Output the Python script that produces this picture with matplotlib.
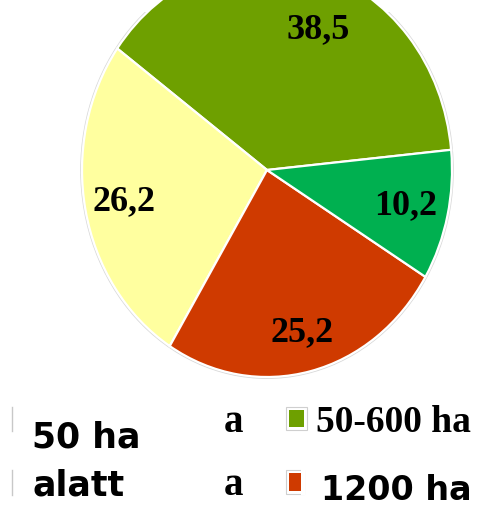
import matplotlib
matplotlib.use("Agg")
import matplotlib.pyplot as plt
from matplotlib.patches import Rectangle, Circle
import numpy as np

# ---- data ----
categories = ["50-600 ha", "50 ha alatt", "1200 ha", "600-1200 ha"]
values = [38.5, 26.2, 25.2, 10.2]
value_labels = ["38,5", "26,2", "25,2", "10,2"]
colors = ["#6EA000", "#FFFF9F", "#CF3A00", "#00B050"]

# legend fragments as they appear
legend_left_lines = ["50 ha", "alatt"]
legend_mid = ["a", "a"]
legend_right = ["50-600 ha", "1200 ha"]

W, H = 481, 509
fig = plt.figure(figsize=(W / 100, H / 100), dpi=100)

# pie axes (ellipse: different x/y pixel scaling)
top_clip = 12
ax = fig.add_axes([0, 0, 1, (H - top_clip) / H])
cx, cy, rx, ry = 267, 170, 185, 207

ax.add_patch(Circle((0, 0), 1.006, facecolor="none", edgecolor="#d8d8d8", lw=1.0, zorder=0))
wedges, _ = ax.pie(values, colors=colors, startangle=5.6, counterclock=True,
                   radius=1.0, wedgeprops=dict(edgecolor="white", linewidth=1.6))
ax.set_aspect("auto")
ax.set_xlim(-cx / rx, (W - cx) / rx)
ax.set_ylim(-(H - cy) / ry, (cy - top_clip) / ry)
ax.axis("off")

label_r = [0.73, 0.79, 0.81, 0.77]
label_shift = [-7.0, 0.0, 0.0, 0.0]
for w, lab, r, sh in zip(wedges, value_labels, label_r, label_shift):
    mid = np.deg2rad((w.theta1 + w.theta2) / 2 + sh)
    ax.text(r * np.cos(mid), r * np.sin(mid), lab, ha="center", va="center",
            fontsize=26, fontweight="bold", family="Liberation Serif", color="black")

# overlay axes in pixel coordinates for legend
lx = fig.add_axes([0, 0, 1, 1])
lx.set_xlim(0, W)
lx.set_ylim(H, 0)
lx.axis("off")

# faint remnants of legend keys on the left
for y0, y1 in [(407, 431), (470, 495)]:
    lx.plot([12, 12], [y0, y1], color="#c8c8c8", lw=1.0)

# legend keys
lx.add_patch(Rectangle((286, 407), 21, 23, facecolor="white", edgecolor="#cfcfcf", lw=0.8))
lx.add_patch(Rectangle((289, 410), 15, 17, facecolor=colors[0], edgecolor="none"))
lx.add_patch(Rectangle((286, 470), 18, 24, facecolor="white", edgecolor="#cfcfcf", lw=0.8))
lx.add_patch(Rectangle((289, 473), 12, 18, facecolor=colors[2], edgecolor="none"))
lx.add_patch(Rectangle((301.5, 469), 4, 26, facecolor="white", edgecolor="none"))

sans = dict(fontsize=25, fontweight="bold", family="DejaVu Sans", color="black")
serif = dict(fontsize=27, fontweight="bold", family="Liberation Serif", color="black")

lx.text(32, 448, legend_left_lines[0], ha="left", va="baseline", **sans)
lx.text(32, 495, legend_left_lines[1], ha="left", va="baseline", **sans)
lx.text(224, 432, legend_mid[0], ha="left", va="baseline", fontsize=28,
        fontweight="bold", family="Liberation Serif", color="black")
lx.text(224, 495, legend_mid[1], ha="left", va="baseline", fontsize=28,
        fontweight="bold", family="Liberation Serif", color="black")
lx.text(316, 432, legend_right[0], ha="left", va="baseline", **serif)
lx.text(321, 507.5, legend_right[1], ha="left", va="bottom", fontsize=24,
        fontweight="bold", family="DejaVu Sans", color="black")

fig.savefig("out.png", dpi=100, facecolor="white")
